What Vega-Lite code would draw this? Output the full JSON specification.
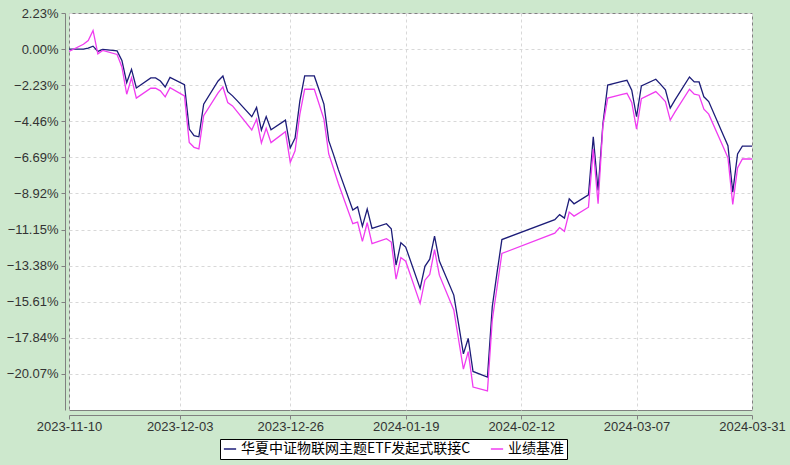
{
  "$schema": "https://vega.github.io/schema/vega-lite/v6.json",
  "width": 683,
  "height": 397,
  "autosize": {"type": "none"},
  "padding": {"left": 69, "top": 13, "right": 38, "bottom": 55},
  "background": "#CDE8CD",
  "config": {
    "view": {"fill": "white", "stroke": "#808080", "strokeWidth": 1},
    "axis": {"labelFont": "Liberation Sans", "labelFontSize": 13, "labelColor": "#333333", "title": null,
             "domainColor": "#808080", "tickColor": "#808080", "gridColor": "#D8D8D8", "gridDash": [3, 3], "gridWidth": 1}
  },
  "data": {"values": [
    {"d":"2023-11-10","f":0,"b":-0.15},
    {"d":"2023-11-13","f":0.0,"b":0.3},
    {"d":"2023-11-14","f":0.06,"b":0.53},
    {"d":"2023-11-15","f":0.18,"b":1.15},
    {"d":"2023-11-16","f":-0.14,"b":-0.29},
    {"d":"2023-11-17","f":-0.02,"b":-0.08},
    {"d":"2023-11-20","f":-0.11,"b":-0.33},
    {"d":"2023-11-21","f":-0.7,"b":-1.1},
    {"d":"2023-11-22","f":-2.07,"b":-2.79},
    {"d":"2023-11-23","f":-1.25,"b":-1.77},
    {"d":"2023-11-24","f":-2.4,"b":-3.03},
    {"d":"2023-11-27","f":-1.78,"b":-2.42},
    {"d":"2023-11-28","f":-1.78,"b":-2.42},
    {"d":"2023-11-29","f":-1.97,"b":-2.58},
    {"d":"2023-11-30","f":-2.34,"b":-2.95},
    {"d":"2023-12-01","f":-1.75,"b":-2.38},
    {"d":"2023-12-04","f":-2.2,"b":-2.89},
    {"d":"2023-12-05","f":-4.94,"b":-5.77},
    {"d":"2023-12-06","f":-5.35,"b":-6.07},
    {"d":"2023-12-07","f":-5.42,"b":-6.17},
    {"d":"2023-12-08","f":-3.4,"b":-4.12},
    {"d":"2023-12-11","f":-1.97,"b":-2.71},
    {"d":"2023-12-12","f":-1.66,"b":-2.34},
    {"d":"2023-12-13","f":-2.63,"b":-3.3},
    {"d":"2023-12-14","f":-2.89,"b":-3.51},
    {"d":"2023-12-15","f":-3.2,"b":-3.88},
    {"d":"2023-12-18","f":-4.18,"b":-5.0},
    {"d":"2023-12-19","f":-3.61,"b":-4.33},
    {"d":"2023-12-20","f":-5.0,"b":-5.8},
    {"d":"2023-12-21","f":-4.17,"b":-4.9},
    {"d":"2023-12-22","f":-4.98,"b":-5.78},
    {"d":"2023-12-25","f":-4.39,"b":-5.11},
    {"d":"2023-12-26","f":-6.11,"b":-7.0},
    {"d":"2023-12-27","f":-5.5,"b":-6.28},
    {"d":"2023-12-28","f":-3.2,"b":-4.02},
    {"d":"2023-12-29","f":-1.66,"b":-2.48},
    {"d":"2023-12-31","f":-1.66,"b":-2.48},
    {"d":"2024-01-02","f":-3.4,"b":-4.33},
    {"d":"2024-01-03","f":-5.66,"b":-6.48},
    {"d":"2024-01-04","f":-6.52,"b":-7.38},
    {"d":"2024-01-05","f":-7.45,"b":-8.3},
    {"d":"2024-01-08","f":-9.94,"b":-10.79},
    {"d":"2024-01-09","f":-9.75,"b":-10.69},
    {"d":"2024-01-10","f":-10.95,"b":-11.88},
    {"d":"2024-01-11","f":-9.88,"b":-10.73},
    {"d":"2024-01-12","f":-11.08,"b":-12.02},
    {"d":"2024-01-15","f":-10.79,"b":-11.71},
    {"d":"2024-01-16","f":-11.1,"b":-11.92},
    {"d":"2024-01-17","f":-13.35,"b":-14.22},
    {"d":"2024-01-18","f":-11.96,"b":-12.88},
    {"d":"2024-01-19","f":-12.23,"b":-13.11},
    {"d":"2024-01-22","f":-14.79,"b":-15.71},
    {"d":"2024-01-23","f":-13.42,"b":-14.28},
    {"d":"2024-01-24","f":-12.98,"b":-13.93},
    {"d":"2024-01-25","f":-11.55,"b":-12.39},
    {"d":"2024-01-26","f":-13.1,"b":-13.97},
    {"d":"2024-01-29","f":-15.2,"b":-16.12},
    {"d":"2024-01-30","f":-17.0,"b":-17.96},
    {"d":"2024-01-31","f":-18.83,"b":-19.77},
    {"d":"2024-02-01","f":-17.88,"b":-18.69},
    {"d":"2024-02-02","f":-19.92,"b":-20.88},
    {"d":"2024-02-05","f":-20.26,"b":-21.12},
    {"d":"2024-02-06","f":-15.92,"b":-16.74},
    {"d":"2024-02-07","f":-13.8,"b":-14.7},
    {"d":"2024-02-08","f":-11.77,"b":-12.63},
    {"d":"2024-02-19","f":-10.54,"b":-11.37},
    {"d":"2024-02-20","f":-10.23,"b":-11.03},
    {"d":"2024-02-21","f":-10.44,"b":-11.26},
    {"d":"2024-02-22","f":-9.25,"b":-10.07},
    {"d":"2024-02-23","f":-9.56,"b":-10.32},
    {"d":"2024-02-26","f":-9.0,"b":-9.77},
    {"d":"2024-02-27","f":-5.42,"b":-6.17},
    {"d":"2024-02-28","f":-8.74,"b":-9.56},
    {"d":"2024-02-29","f":-4.63,"b":-4.74},
    {"d":"2024-03-01","f":-2.22,"b":-3.03},
    {"d":"2024-03-04","f":-2.0,"b":-2.8},
    {"d":"2024-03-05","f":-1.93,"b":-2.73},
    {"d":"2024-03-06","f":-2.54,"b":-3.3},
    {"d":"2024-03-07","f":-4.18,"b":-4.94},
    {"d":"2024-03-08","f":-2.28,"b":-3.06},
    {"d":"2024-03-11","f":-1.86,"b":-2.63},
    {"d":"2024-03-12","f":-2.18,"b":-2.92},
    {"d":"2024-03-13","f":-2.52,"b":-3.24},
    {"d":"2024-03-14","f":-3.65,"b":-4.39},
    {"d":"2024-03-15","f":-3.14,"b":-3.88},
    {"d":"2024-03-18","f":-1.72,"b":-2.48},
    {"d":"2024-03-19","f":-2.03,"b":-2.79},
    {"d":"2024-03-20","f":-2.03,"b":-2.85},
    {"d":"2024-03-21","f":-2.95,"b":-3.71},
    {"d":"2024-03-22","f":-3.24,"b":-4.02},
    {"d":"2024-03-25","f":-5.29,"b":-6.03},
    {"d":"2024-03-26","f":-5.97,"b":-6.72},
    {"d":"2024-03-27","f":-8.84,"b":-9.6},
    {"d":"2024-03-28","f":-6.48,"b":-7.34},
    {"d":"2024-03-29","f":-6.0,"b":-6.79},
    {"d":"2024-03-31","f":-6.0,"b":-6.79}
  ]},
  "transform": [{"fold": ["f", "b"], "as": ["k", "v"]}],
  "mark": {"type": "line", "strokeWidth": 1.3, "clip": true},
  "encoding": {
    "x": {
      "field": "d", "type": "temporal",
      "scale": {"type": "utc", "domain": [{"year": 2023, "month": 11, "date": 10, "utc": true}, {"year": 2024, "month": 3, "date": 31, "utc": true}]},
      "axis": {
        "values": [
          {"year": 2023, "month": 11, "date": 10, "utc": true},
          {"year": 2023, "month": 12, "date": 3, "utc": true},
          {"year": 2023, "month": 12, "date": 26, "utc": true},
          {"year": 2024, "month": 1, "date": 19, "utc": true},
          {"year": 2024, "month": 2, "date": 12, "utc": true},
          {"year": 2024, "month": 3, "date": 7, "utc": true},
          {"year": 2024, "month": 3, "date": 31, "utc": true}
        ],
        "labelExpr": "utcFormat(datum.value, '%Y-%m-%d')",
        "offset": 5, "tickSize": 4, "labelPadding": 1, "grid": true,
        "labelOverlap": false, "labelFlush": false, "labelAlign": "center"
      }
    },
    "y": {
      "field": "v", "type": "quantitative",
      "scale": {"domain": [-22.3, 2.23], "nice": false, "zero": false},
      "axis": {
        "values": [2.23, 0, -2.23, -4.46, -6.69, -8.92, -11.15, -13.38, -15.61, -17.84, -20.07],
        "labelExpr": "format(datum.value, '.2f') + '%'",
        "offset": 4, "tickSize": 4, "labelPadding": 3, "grid": true, "labelOverlap": false, "labelFlush": false
      }
    },
    "color": {
      "field": "k", "type": "nominal",
      "scale": {"domain": ["f", "b"], "range": ["#1C1C78", "#F03CF0"]},
      "legend": {
        "title": null, "orient": "none", "legendX": 151, "legendY": 426, "direction": "horizontal",
        "labelExpr": "datum.label == 'f' ? '华夏中证物联网主题ETF发起式联接C' : '业绩基准'",
        "labelFont": "Noto Sans CJK SC", "labelFontSize": 14, "labelColor": "#000000", "labelLimit": 0,
        "symbolType": "stroke", "symbolStrokeWidth": 1.5, "symbolSize": 150,
        "strokeColor": "#000000", "fillColor": "#FFFFFF", "padding": 3,
        "columnPadding": 16, "labelOffset": 4
      }
    }
  }
}
